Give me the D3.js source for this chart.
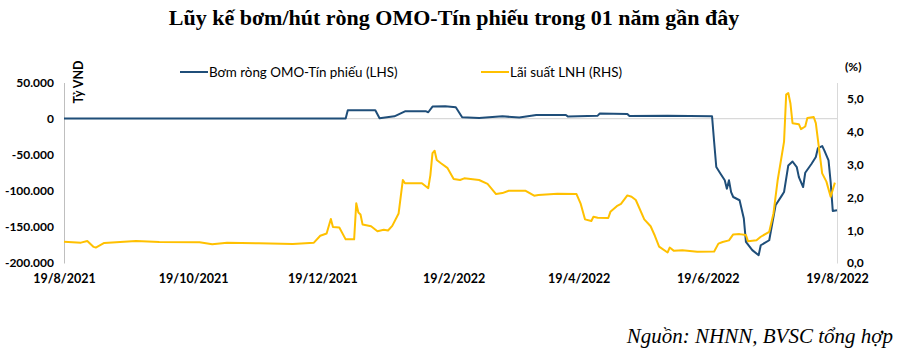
<!DOCTYPE html>
<html>
<head>
<meta charset="utf-8">
<script src="https://cdn.jsdelivr.net/npm/d3@7/dist/d3.min.js"></script>
<style>
  html, body { margin: 0; padding: 0; background: #fff; }
  svg { display: block; }
</style>
</head>
<body>
<svg id="chart" width="908" height="357"></svg>
<script>
// ---------- DATA ----------
const titleText = "Lũy kế bơm/hút ròng OMO-Tín phiếu trong 01 năm gần đây";
const sourceText = "Nguồn: NHNN, BVSC tổng hợp";
const seriesNames = ["Bơm ròng OMO-Tín phiếu (LHS)", "Lãi suất LNH (RHS)"];
const leftUnit = "Tỷ VND";
const rightUnit = "(%)";

const xTickDates = ["2021-08-19", "2021-10-19", "2021-12-19", "2022-02-19", "2022-04-19", "2022-06-19", "2022-08-19"];
const leftTicks = [50000, 0, -50000, -100000, -150000, -200000];
const rightTicks = [0, 1, 2, 3, 4, 5];

const omoDates = [
  "2021-08-19","2021-12-30","2021-12-31","2022-01-13","2022-01-15","2022-01-22","2022-01-27","2022-02-06",
  "2022-02-07","2022-02-09","2022-02-15","2022-02-20","2022-02-23","2022-03-03","2022-03-14","2022-03-22",
  "2022-03-30","2022-04-13","2022-04-14","2022-04-28","2022-04-29","2022-05-12","2022-05-13","2022-05-31",
  "2022-06-21","2022-06-22","2022-06-23","2022-06-25","2022-06-27","2022-06-28","2022-06-29","2022-06-30",
  "2022-07-01","2022-07-04","2022-07-06","2022-07-07","2022-07-10","2022-07-13","2022-07-14","2022-07-18",
  "2022-07-19","2022-07-21","2022-07-24","2022-07-25","2022-07-27","2022-07-29","2022-07-31","2022-08-01",
  "2022-08-03","2022-08-04","2022-08-07","2022-08-09","2022-08-10","2022-08-12","2022-08-13","2022-08-15",
  "2022-08-16","2022-08-17","2022-08-19"
];
const omoValues = [
  0, 0, 11500, 11500, 500, 3200, 10100, 10100,
  8800, 16600, 17000, 15600, 1800, 1000, 3200, 1400,
  5000, 5000, 2800, 4100, 7000, 6500, 3700, 4100,
  3200, -32700, -67000, -76300, -85500, -97000, -85500, -101800,
  -108600, -113100, -138400, -170700, -182200, -189200, -175400, -168500,
  -152300, -120100, -106300, -101700, -64900, -59400, -67100, -81000,
  -94800, -75000, -62500, -53300, -40800, -38000, -44000, -57900,
  -87800, -127900, -126900
];

const rateDates = [
  "2021-08-19","2021-08-27","2021-08-30","2021-09-02","2021-09-03","2021-09-07","2021-09-22","2021-10-03",
  "2021-10-22","2021-10-28","2021-11-04","2021-11-19","2021-12-05","2021-12-15","2021-12-18","2021-12-21",
  "2021-12-23","2021-12-24","2021-12-27","2021-12-30","2022-01-03","2022-01-04","2022-01-05","2022-01-06",
  "2022-01-07","2022-01-11","2022-01-14","2022-01-17","2022-01-19","2022-01-21","2022-01-24","2022-01-26",
  "2022-01-27","2022-02-04","2022-02-07","2022-02-08","2022-02-09","2022-02-10","2022-02-11","2022-02-13",
  "2022-02-16","2022-02-19","2022-02-22","2022-02-24","2022-03-03","2022-03-07","2022-03-11","2022-03-14",
  "2022-03-17","2022-03-25","2022-03-29","2022-03-31","2022-04-09","2022-04-18","2022-04-20","2022-04-22",
  "2022-04-25","2022-04-26","2022-04-28","2022-05-03","2022-05-04","2022-05-07","2022-05-09","2022-05-12",
  "2022-05-14","2022-05-16","2022-05-20","2022-05-23","2022-05-25","2022-05-27","2022-05-31","2022-06-01",
  "2022-06-03","2022-06-07","2022-06-14","2022-06-22","2022-06-24","2022-06-26","2022-06-29","2022-07-01",
  "2022-07-04","2022-07-07","2022-07-08","2022-07-12","2022-07-14","2022-07-18","2022-07-20","2022-07-22",
  "2022-07-25","2022-07-26","2022-07-27","2022-07-28","2022-07-29","2022-08-01","2022-08-02","2022-08-04",
  "2022-08-05","2022-08-08","2022-08-09","2022-08-12","2022-08-14","2022-08-16","2022-08-18"
];
const rateValues = [
  0.65, 0.62, 0.67, 0.49, 0.47, 0.61, 0.67, 0.64,
  0.63, 0.57, 0.62, 0.60, 0.58, 0.62, 0.83, 0.90,
  1.34, 1.10, 1.08, 0.72, 0.72, 1.82, 1.54, 1.48,
  1.17, 1.12, 0.97, 1.01, 0.99, 1.13, 1.51, 2.53,
  2.43, 2.43, 2.28, 2.68, 3.35, 3.42, 3.14, 3.04,
  2.90, 2.56, 2.53, 2.58, 2.53, 2.41, 2.10, 2.13,
  2.20, 2.20, 2.05, 2.07, 2.11, 2.10, 1.80, 1.33,
  1.28, 1.41, 1.38, 1.37, 1.56, 1.73, 1.80, 2.06,
  2.02, 1.92, 1.33, 1.12, 0.83, 0.50, 0.32, 0.47,
  0.37, 0.39, 0.34, 0.35, 0.59, 0.64, 0.69, 0.87,
  0.88, 0.85, 0.66, 0.69, 0.80, 0.95, 1.51, 2.53,
  3.70, 5.13, 5.18, 4.87, 4.26, 4.23, 4.08, 4.16,
  4.42, 4.45, 4.26, 2.73, 2.48, 2.02, 2.45
];

// ---------- CHART ----------
const parse = d3.utcParse("%Y-%m-%d");
const svg = d3.select("#chart");
const plot = { left: 64, right: 837, top: 82.5, bottom: 263 };
const BLUE = "#1f4e79", YELLOW = "#ffc000", GRID = "#d9d9d9";
const labelFont = "Lato, 'Open Sans', sans-serif";

const x = d3.scaleUtc()
  .domain([parse(xTickDates[0]), parse(xTickDates[xTickDates.length - 1])])
  .range([plot.left, plot.right]);
const yL = d3.scaleLinear().domain([-200000, 50000]).range([plot.bottom, plot.top]);
const yR = d3.scaleLinear().domain([0, 5.5]).range([plot.bottom, plot.top]);

const loc = d3.formatLocale({ decimal: ",", thousands: ".", grouping: [3], currency: ["", ""], minus: "-" });
const fmtL = loc.format(",");
const fmtR = loc.format(",.1f");
const fmtX = d => `${d.getUTCDate()}/${d.getUTCMonth() + 1}/${d.getUTCFullYear()}`;

// title
svg.append("text")
  .attr("x", 454).attr("y", 25)
  .attr("text-anchor", "middle")
  .style("font-family", "'Liberation Serif', 'Times New Roman', serif")
  .style("font-weight", "bold")
  .style("font-size", "22px")
  .text(titleText);

// zero line
svg.append("line")
  .attr("x1", plot.left).attr("x2", plot.right)
  .attr("y1", yL(0)).attr("y2", yL(0))
  .attr("stroke", GRID).attr("stroke-width", 1.2);

// left axis
const axL = d3.axisLeft(yL).tickValues(leftTicks).tickFormat(fmtL).tickSize(0).tickPadding(10);
const gL = svg.append("g").attr("transform", `translate(${plot.left},0)`).call(axL);
gL.select(".domain").attr("stroke", "#bfbfbf").attr("stroke-width", 1);
gL.selectAll("text").style("font-family", labelFont).style("font-weight", "bold").style("font-size", "12px").attr("fill", "#000");

// right axis
const axR = d3.axisRight(yR).tickValues(rightTicks).tickFormat(fmtR).tickSize(0).tickPadding(10);
const gR = svg.append("g").attr("transform", `translate(${plot.right},0)`).call(axR);
gR.select(".domain").attr("stroke", "#d9d9d9").attr("stroke-width", 1);
gR.selectAll("text").style("font-family", labelFont).style("font-weight", "bold").style("font-size", "12px").attr("fill", "#000");

// x axis labels
const axX = d3.axisBottom(x).tickValues(xTickDates.map(parse)).tickFormat(fmtX).tickSize(0).tickPadding(0);
const gX = svg.append("g").attr("transform", `translate(0,${plot.bottom + 11})`).call(axX);
gX.select(".domain").remove();
gX.selectAll("text").style("font-family", labelFont).style("font-weight", "bold").style("font-size", "12.5px").attr("fill", "#000");

// unit labels
svg.append("text")
  .attr("transform", "translate(83,82) rotate(-90)")
  .attr("text-anchor", "middle")
  .style("font-family", labelFont).style("font-weight", "bold").style("font-size", "12.5px")
  .text(leftUnit);
svg.append("text")
  .attr("x", 845).attr("y", 71)
  .style("font-family", labelFont).style("font-weight", "bold").style("font-size", "12px")
  .text(rightUnit);

// lines
const omo = omoDates.map((d, i) => ({ d: parse(d), v: omoValues[i] }));
const rate = rateDates.map((d, i) => ({ d: parse(d), v: rateValues[i] }));

svg.append("path").datum(omo)
  .attr("fill", "none").attr("stroke", BLUE).attr("stroke-width", 2).attr("stroke-linejoin", "round")
  .attr("d", d3.line().x(p => x(p.d)).y(p => yL(p.v)));
svg.append("path").datum(rate)
  .attr("fill", "none").attr("stroke", YELLOW).attr("stroke-width", 2).attr("stroke-linejoin", "round")
  .attr("d", d3.line().x(p => x(p.d)).y(p => yR(p.v)));

// legend
const legend = [
  { name: seriesNames[0], color: BLUE, x: 180 },
  { name: seriesNames[1], color: YELLOW, x: 481 }
];
const lg = svg.append("g").selectAll("g").data(legend).join("g")
  .attr("transform", d => `translate(${d.x},72)`);
lg.append("line").attr("x1", 0).attr("x2", 28).attr("y1", 0).attr("y2", 0)
  .attr("stroke", d => d.color).attr("stroke-width", 2);
lg.append("text").attr("x", 29).attr("y", 5)
  .style("font-family", labelFont).style("font-size", "13.4px").attr("fill", "#000")
  .text(d => d.name);

// source
svg.append("text")
  .attr("x", 893).attr("y", 343)
  .attr("text-anchor", "end")
  .style("font-family", "'Liberation Serif', 'Times New Roman', serif")
  .style("font-style", "italic")
  .style("font-size", "21px")
  .text(sourceText);
</script>
</body>
</html>
